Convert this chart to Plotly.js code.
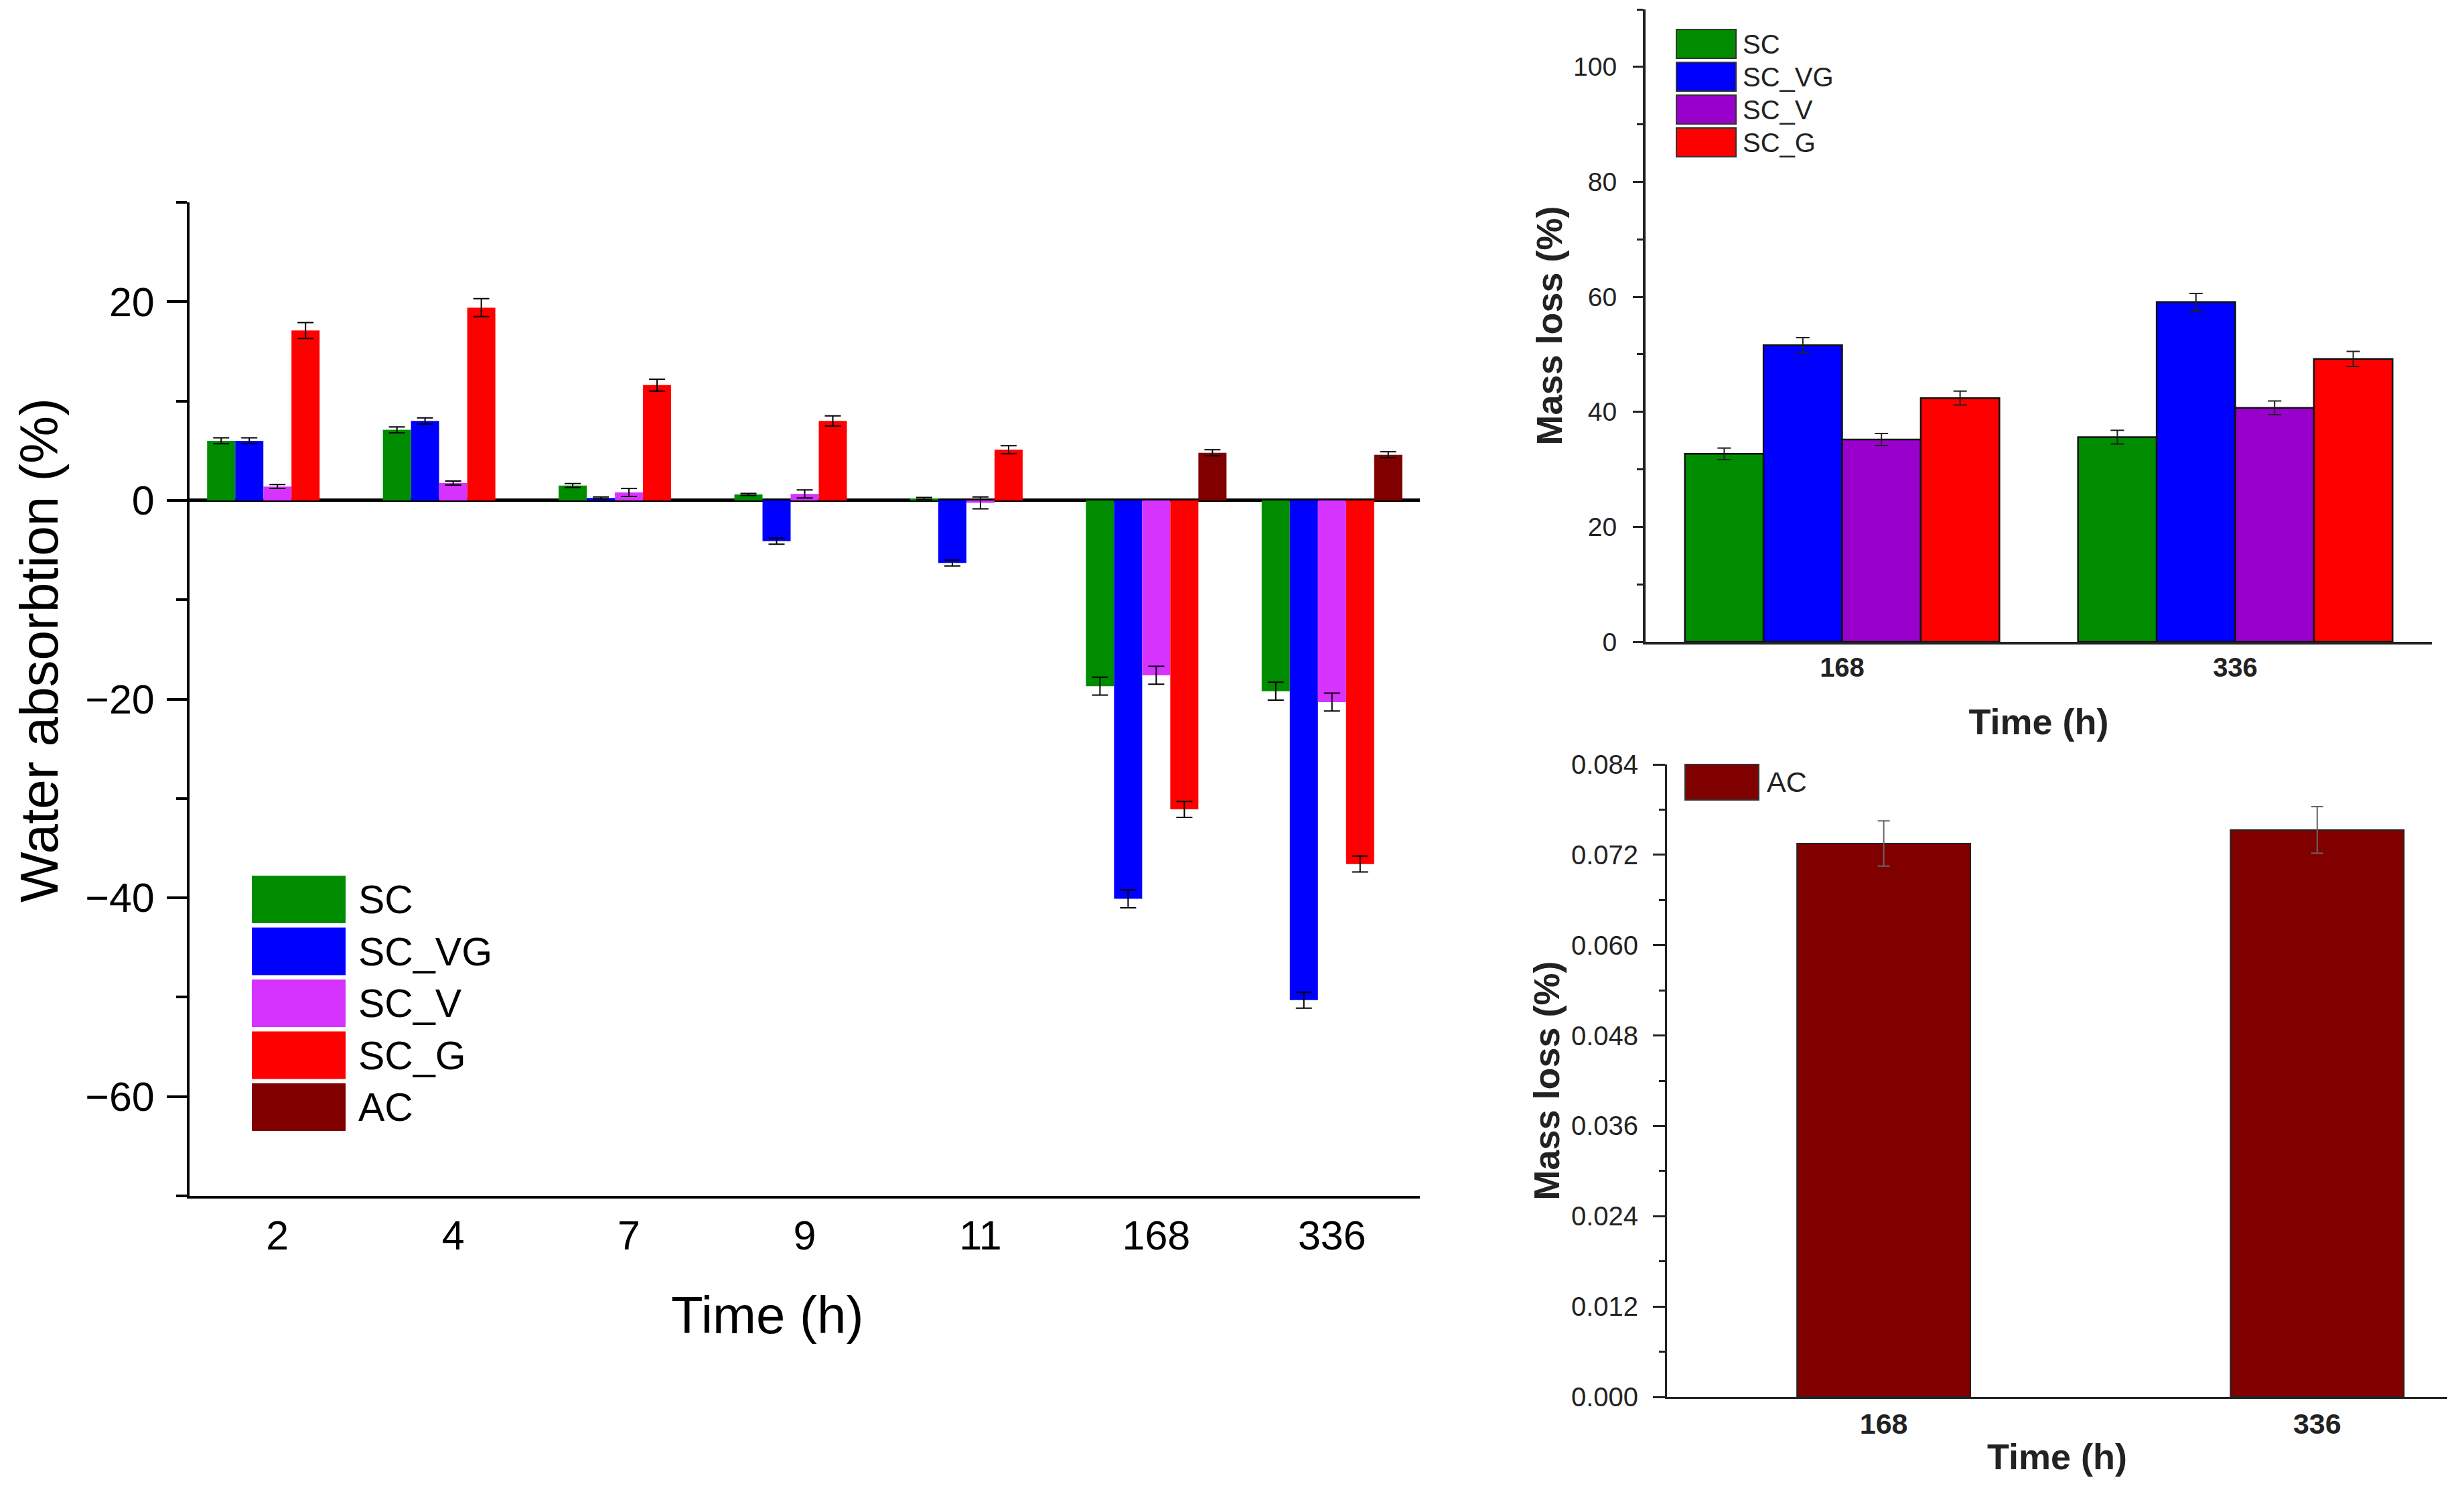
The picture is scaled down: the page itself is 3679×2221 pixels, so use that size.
<!DOCTYPE html>
<html>
<head>
<meta charset="utf-8">
<script src="https://cdn.plot.ly/plotly-3.0.1.min.js"></script>
<style>
  html, body { margin: 0; padding: 0; background: #fff; }
  #chart { width: 3679px; height: 2221px; }
</style>
</head>
<body>
<div id="chart"></div>
<script>
// ---- data: water absorption (left panel) ----
var timeLabels = ['2', '4', '7', '9', '11', '168', '336'];
var seriesNames = ['SC', 'SC_VG', 'SC_V', 'SC_G', 'AC'];

var absSC   = [6.0, 7.1, 1.5, 0.6, 0.2, -18.7, -19.2];
var absSCVG = [6.0, 8.0, 0.25, -4.1, -6.3, -40.1, -50.3];
var absSCV  = [1.4, 1.75, 0.8, 0.65, -0.25, -17.6, -20.3];
var absSCG  = [17.1, 19.4, 11.6, 8.0, 5.1, -31.1, -36.6];
var absAC   = [null, null, null, null, null, 4.8, 4.6];

var errSC   = [0.3, 0.3, 0.2, 0.1, 0.1, 0.9, 0.9];
var errSCVG = [0.3, 0.3, 0.1, 0.3, 0.3, 0.9, 0.8];
var errSCV  = [0.2, 0.2, 0.4, 0.4, 0.6, 0.9, 0.9];
var errSCG  = [0.8, 0.9, 0.6, 0.5, 0.4, 0.8, 0.8];
var errAC   = [null, null, null, null, null, 0.3, 0.3];

// ---- data: mass loss (right panels) ----
var lossTimes = ['168', '336'];
var lossSC   = [32.7, 35.6];
var lossSCVG = [51.6, 59.1];
var lossSCV  = [35.2, 40.7];
var lossSCG  = [42.4, 49.2];
var lossErrSC   = [1.0, 1.2];
var lossErrSCVG = [1.3, 1.5];
var lossErrSCV  = [1.05, 1.2];
var lossErrSCG  = [1.2, 1.3];

var lossAC    = [0.0735, 0.0753];
var lossErrAC = [0.0030, 0.0031];

var leftColors  = ['#008c00', '#0000ff', '#d633ff', '#ff0000', '#800000'];
var rightColors = ['#008c00', '#0000ff', '#9900cc', '#ff0000'];

var FONT = 'Liberation Sans, Arial, sans-serif';
var W = 3679, H = 2221;
function fx(px) { return px / W; }
function fy(py) { return 1 - py / H; }

var absData = [absSC, absSCVG, absSCV, absSCG, absAC];
var absErr  = [errSC, errSCVG, errSCV, errSCG, errAC];
var lossData = [lossSC, lossSCVG, lossSCV, lossSCG];
var lossErr  = [lossErrSC, lossErrSCVG, lossErrSCV, lossErrSCG];

var data = [];

absData.forEach(function (vals, i) {
  data.push({
    type: 'bar', name: seriesNames[i],
    x: timeLabels, y: vals,
    xaxis: 'x', yaxis: 'y',
    marker: { color: leftColors[i], line: { width: 0 } },
    error_y: { type: 'data', array: absErr[i], visible: true, color: '#000', thickness: 2, width: 12 },
    showlegend: false
  });
});

lossData.forEach(function (vals, i) {
  data.push({
    type: 'bar', name: seriesNames[i],
    x: lossTimes, y: vals,
    xaxis: 'x2', yaxis: 'y2',
    marker: { color: rightColors[i], line: { color: '#111', width: 2.5 } },
    error_y: { type: 'data', array: lossErr[i], visible: true, color: '#222', thickness: 2, width: 10 },
    showlegend: false
  });
});

data.push({
  type: 'bar', name: seriesNames[4],
  x: lossTimes, y: lossAC, width: 0.4,
  xaxis: 'x3', yaxis: 'y3',
  marker: { color: leftColors[4], line: { color: '#222', width: 2 } },
  error_y: { type: 'data', array: lossErrAC, visible: true, color: '#666', thickness: 2, width: 9 },
  showlegend: false
});

// legend swatches drawn as shapes + labels
var shapes = [];
var annotations = [];

seriesNames.forEach(function (name, i) {
  var top = 1307 + i * 77.5;
  shapes.push({ type: 'rect', xref: 'paper', yref: 'paper',
    x0: fx(376), x1: fx(516), y0: fy(top + 71), y1: fy(top),
    fillcolor: leftColors[i], line: { width: 0 } });
  annotations.push({ xref: 'paper', yref: 'paper', x: fx(533), y: fy(top + 36),
    xanchor: 'left', yanchor: 'middle', showarrow: false, text: name,
    font: { size: 59, family: FONT, color: '#000' } });
});

rightColors.forEach(function (c, i) {
  var top = 44 + i * 49;
  shapes.push({ type: 'rect', xref: 'paper', yref: 'paper',
    x0: fx(2503), x1: fx(2592), y0: fy(top + 43), y1: fy(top),
    fillcolor: c, line: { color: '#333', width: 2 } });
  annotations.push({ xref: 'paper', yref: 'paper', x: fx(2600), y: fy(top + 22),
    xanchor: 'left', yanchor: 'middle', showarrow: false, text: seriesNames[i],
    font: { size: 40, family: FONT, color: '#222' } });
});

shapes.push({ type: 'rect', xref: 'paper', yref: 'paper',
  x0: fx(2516), x1: fx(2626), y0: fy(1194), y1: fy(1141),
  fillcolor: leftColors[4], line: { color: '#333', width: 2 } });
annotations.push({ xref: 'paper', yref: 'paper', x: fx(2636), y: fy(1167),
  xanchor: 'left', yanchor: 'middle', showarrow: false, text: seriesNames[4],
  font: { size: 43, family: FONT, color: '#222' } });

// left panel titles sit off-centre in the original, so place them by hand
annotations.push({ xref: 'paper', yref: 'paper', x: fx(1145), y: fy(1963),
  xanchor: 'center', yanchor: 'middle', showarrow: false, text: 'Time (h)',
  font: { size: 78, family: FONT, color: '#000' } });
annotations.push({ xref: 'paper', yref: 'paper', x: fx(58), y: fy(971),
  xanchor: 'center', yanchor: 'middle', showarrow: false, textangle: -90,
  text: 'Water absorbtion (%)',
  font: { size: 80, family: FONT, color: '#000' } });

var layout = {
  width: W, height: H,
  margin: { l: 0, r: 0, t: 0, b: 0 },
  paper_bgcolor: '#fff', plot_bgcolor: 'rgba(0,0,0,0)',
  font: { family: FONT, color: '#000' },
  barmode: 'group', bargap: 0.2, bargroupgap: 0,
  showlegend: false,
  shapes: shapes,
  annotations: annotations,

  xaxis: {
    domain: [fx(283), fx(2120)], anchor: 'y', type: 'category', range: [-0.5, 6.5],
    showline: true, linecolor: '#000', linewidth: 4, ticks: '', showgrid: false, zeroline: false,
    tickfont: { size: 61, color: '#000' }, ticklabelstandoff: 3
  },
  yaxis: {
    domain: [fy(1785), fy(302)], anchor: 'x', range: [-70, 30], tick0: 0, dtick: 20,
    ticks: 'outside', ticklen: 30, tickwidth: 4, tickcolor: '#000',
    showline: true, linecolor: '#000', linewidth: 4, showgrid: false,
    zeroline: true, zerolinecolor: '#000', zerolinewidth: 5,
    minor: { ticks: 'outside', ticklen: 16, tickwidth: 4, tickcolor: '#000', dtick: 10, showgrid: false },
    tickfont: { size: 61, color: '#000' }, ticklabelstandoff: 6
  },

  xaxis2: {
    domain: [fx(2457), fx(3631)], anchor: 'y2', type: 'category', range: [-0.5, 1.5],
    showline: true, linecolor: '#222', linewidth: 4, ticks: '', showgrid: false, zeroline: false,
    tickfont: { size: 40, color: '#222', weight: 'bold' }, ticklabelstandoff: 0,
    title: { text: 'Time (h)', font: { size: 54, color: '#222', weight: 'bold' }, standoff: 42 }
  },
  yaxis2: {
    domain: [fy(958), fy(14)], anchor: 'x2', range: [0, 110], tick0: 0, dtick: 20,
    ticks: 'outside', ticklen: 15, tickwidth: 3, tickcolor: '#222',
    showline: true, linecolor: '#222', linewidth: 4, showgrid: false, zeroline: false,
    minor: { ticks: 'outside', ticklen: 9, tickwidth: 3, tickcolor: '#222', dtick: 10, showgrid: false },
    tickfont: { size: 39, color: '#222' }, ticklabelstandoff: 16,
    title: { text: 'Mass loss (%)', font: { size: 54, color: '#222', weight: 'bold' }, standoff: 0 }
  },

  xaxis3: {
    domain: [fx(2489), fx(3654)], anchor: 'y3', type: 'category', range: [-0.5, 1.3],
    showline: true, linecolor: '#222', linewidth: 3, ticks: '', showgrid: false, zeroline: false,
    tickfont: { size: 43, color: '#222', weight: 'bold' }, ticklabelstandoff: 0,
    title: { text: 'Time (h)', font: { size: 54, color: '#222', weight: 'bold' }, standoff: 8 }
  },
  yaxis3: {
    domain: [fy(2085), fy(1141)], anchor: 'x3', range: [0, 0.084], tick0: 0, dtick: 0.012,
    tickformat: '.3f',
    ticks: 'outside', ticklen: 18, tickwidth: 3, tickcolor: '#222',
    showline: true, linecolor: '#222', linewidth: 3, showgrid: false, zeroline: false,
    minor: { ticks: 'outside', ticklen: 9, tickwidth: 3, tickcolor: '#222', dtick: 0.006, showgrid: false },
    tickfont: { size: 40, color: '#222' }, ticklabelstandoff: 14,
    title: { text: 'Mass loss (%)', font: { size: 54, color: '#222', weight: 'bold' }, standoff: 0 }
  }
};

Plotly.newPlot('chart', data, layout, { staticPlot: true, displayModeBar: false });
</script>
</body>
</html>
